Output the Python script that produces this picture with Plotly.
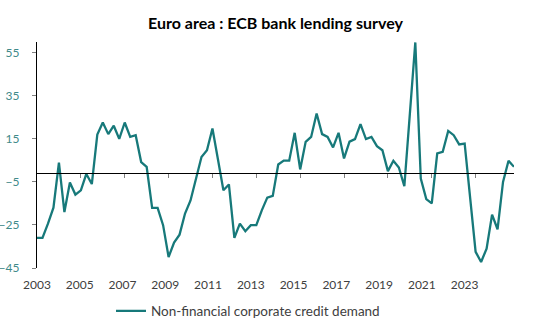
import plotly.graph_objects as go

# ---- data -------------------------------------------------------------
start_year = 2003
end_year = 2024
quarters = [f"{y}Q{q}" for y in range(start_year, end_year + 1) for q in range(1, 5)]

credit_demand = [
    -31.0, -31.0, -24.4, -17.0, 4.0, -19.0, -5.3, -10.9,      # 2003-2004
    -8.9, -1.3, -6.0, 17.0, 22.6, 17.2, 21.1, 15.0,           # 2005-2006
    22.6, 15.9, 16.7, 4.2, 2.0, -17.1, -17.1, -25.1,          # 2007-2008
    -39.9, -33.2, -29.5, -19.7, -13.6, -3.4, 6.6, 9.7,        # 2009-2010
    19.8, 5.5, -8.9, -6.2, -31.0, -24.4, -27.9, -25.1,        # 2011-2012
    -25.1, -18.2, -12.3, -11.5, 3.1, 4.9, 4.9, 17.8,          # 2013-2014
    0.8, 13.6, 15.9, 26.8, 17.2, 15.9, 11.0, 17.8,            # 2015-2016
    5.9, 13.7, 14.9, 21.8, 14.9, 15.9, 11.6, 9.7,             # 2017-2018
    0.0, 4.8, 1.7, -7.0, 26.5, 59.8, -3.4, -13.0,             # 2019-2020
    -15.0, 8.2, 9.0, 18.7, 16.7, 12.4, 12.8, -12.3,           # 2021-2022
    -37.5, -42.2, -36.0, -20.2, -27.0, -5.0, 4.8, 2.0,        # 2023-2024
]

series_name = "Non-financial corporate credit demand"
title_text = "Euro area : ECB bank lending survey"

y_tick_values = [-45, -25, -5, 15, 35, 55]
x_label_years = list(range(2003, 2024, 2))
axis_cross_value = -1
y_min, y_max = -45, 60

# ---- figure -----------------------------------------------------------
line_color = "#17797A"
font_family = "Lato, 'Open Sans', sans-serif"

fig = go.Figure()
fig.add_trace(go.Scatter(
    x=quarters, y=credit_demand, mode="lines", name=series_name,
    line=dict(color=line_color, width=2.3), showlegend=True,
))
# helper (empty) trace so the label axis is drawn
fig.add_trace(go.Scatter(x=[], y=[], xaxis="x2", showlegend=False, hoverinfo="skip"))

cross_frac = (axis_cross_value - y_min) / (y_max - y_min)

fig.update_layout(
    width=535, height=326,
    margin=dict(l=37, r=21, t=42, b=58, autoexpand=False),
    paper_bgcolor="white", plot_bgcolor="white",
    font=dict(family=font_family, size=12, color="#404040"),
    title=dict(text=title_text, x=0.5, xref="paper", xanchor="center",
               y=1 - 23 / 326, yanchor="middle",
               font=dict(family=font_family, size=16, color="#000000", weight="bold")),
    xaxis=dict(
        type="category", range=[0, len(quarters) - 1],
        anchor="free", position=cross_frac,
        showline=True, linecolor="#000000", linewidth=1.3,
        ticks="outside", ticklen=4, tickwidth=1, tickcolor="#808080",
        tickvals=quarters[8::8][:10], showticklabels=False,
        showgrid=False, zeroline=False,
    ),
    xaxis2=dict(
        overlaying="x", anchor="y", side="bottom",
        range=[x_label_years[0], x_label_years[0] + 22.31],
        tickvals=x_label_years, ticktext=[str(v) for v in x_label_years],
        ticks="", showline=False, showgrid=False, zeroline=False,
        tickfont=dict(size=12, color="#404040"), ticklabelstandoff=8,
    ),
    yaxis=dict(
        range=[y_min, y_max], tickvals=y_tick_values,
        showline=True, linecolor="#000000", linewidth=1.3,
        ticks="outside", ticklen=4, tickcolor="#808080",
        showgrid=False, zeroline=False,
        tickfont=dict(size=12, color="#3F8A8A"), ticklabelstandoff=10,
    ),
    legend=dict(orientation="h", xref="container", yref="container",
                x=111 / 535, xanchor="left", y=1 - 311 / 326, yanchor="middle",
                font=dict(size=13.5, color="#404040"), bgcolor="rgba(0,0,0,0)"),
)

fig.write_html("out.html")
